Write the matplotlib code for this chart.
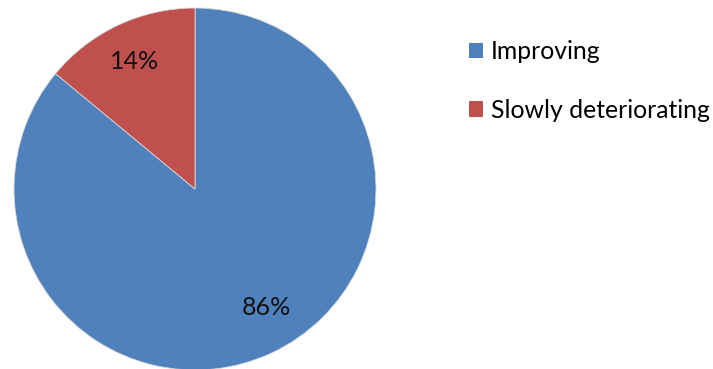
import numpy as np
import matplotlib
matplotlib.use("Agg")
import matplotlib.pyplot as plt
from matplotlib.patches import Patch

plt.rcParams['font.family'] = ['Lato', 'DejaVu Sans']

categorias = ['Improving', 'Slowly deteriorating']
valores = [86, 14]
cores = ['#4F81BD', '#C0504D']

fig = plt.figure(figsize=(7.13, 3.69), dpi=100)
ax = fig.add_axes([14 / 713, -1 / 369, 362 / 713, 362 / 369])

fatias, textos, pcts = ax.pie(valores, colors=cores, startangle=90, counterclock=False,
                              autopct='%1.0f%%', pctdistance=0.78,
                              wedgeprops=dict(edgecolor='#d9d9d9', linewidth=0.6),
                              textprops=dict(fontsize=18, color='#111111'))
# rotulo da fatia grande um pouco mais perto do lado direito
ang = np.deg2rad(-59)
pcts[0].set_position((0.765 * np.cos(ang), 0.765 * np.sin(ang)))

ax.set_xlim(-1, 1)
ax.set_ylim(-1, 1)
ax.set_aspect('equal')
ax.axis('off')

alcas = [Patch(facecolor=c, edgecolor='none') for c in cores]
fig.legend(alcas, categorias, loc='upper left', bbox_to_anchor=(469 / 713, 1 - 40 / 369),
           frameon=False, fontsize=17.8, handlelength=0.58, handleheight=0.58,
           handletextpad=0.3, labelspacing=1.45, borderpad=0, borderaxespad=0)

fig.savefig('out.png', dpi=100)
